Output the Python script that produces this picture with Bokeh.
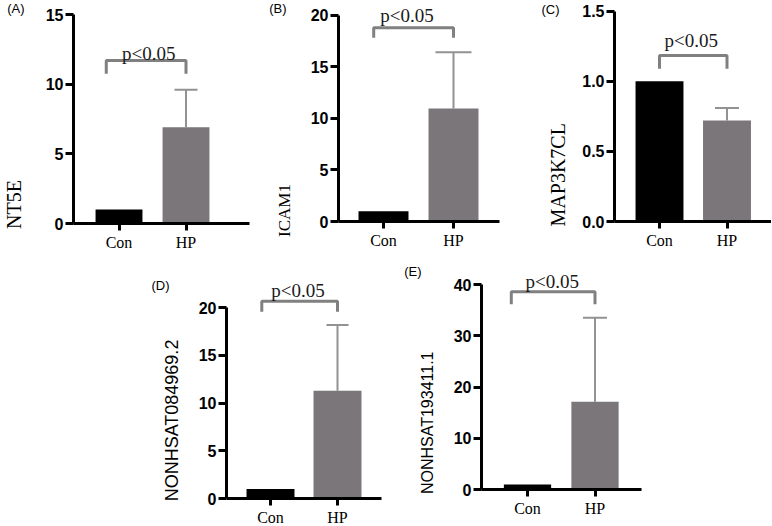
import math
from bokeh.plotting import figure
from bokeh.models import (Range1d, FixedTicker, Label, Whisker, TeeHead, LinearAxis,
                          ColumnDataSource, Spacer, PrintfTickFormatter)
from bokeh.layouts import column, row
from bokeh.embed import file_html
from bokeh.resources import INLINE

# ---------------- data ----------------
groups = ["Con", "HP"]

panel_letters = ["(A)", "(B)", "(C)", "(D)", "(E)"]
gene_names = ["NT5E", "ICAM1", "MAP3K7CL", "NONHSAT084969.2", "NONHSAT193411.1"]

nt5e_values = [1.0, 6.9]
icam1_values = [1.0, 10.95]
map3k7cl_values = [1.0, 0.72]
nonhsat084969_values = [1.0, 11.3]
nonhsat193411_values = [1.0, 17.1]

# upper end of the HP error bar
hp_error_top = [9.6, 16.4, 0.81, 18.2, 33.5]

nt5e_ticks = [0, 5, 10, 15]
icam1_ticks = [0, 5, 10, 15, 20]
map3k7cl_ticks = [0, 0.5, 1.0, 1.5]
nonhsat084969_ticks = [0, 5, 10, 15, 20]
nonhsat193411_ticks = [0, 10, 20, 30, 40]

# significance bracket: left end (category units), top level, leg bottom level
bracket_left = [-0.19, -0.14, 0.0, -0.13, -0.24]
bracket_top = [11.7, 18.78, 1.184, 20.69, 38.57]
bracket_leg = [10.75, 17.81, 1.089, 19.58, 36.15]
p_text = "p<0.05"
p_text_x = [0.445, 0.336, 0.47, 0.41, 0.366]

# ---------------- styles / geometry ----------------
CON_COLOR = "#000000"
HP_COLOR = "#7a767a"
ERR_COLOR = "#929292"
BRACKET_COLOR = "#808080"

# fw: frame width, unit: px per category, con_off: px from frame left to Con centre
# y0: px from frame top to value 0, ytop: px from frame top to last tick
# gene_up: px above zero line of the axis-title centre, sg: its standoff
# let_down: px below frame top of the panel letter, sl: its standoff
geoms = [
    dict(fw=176, unit=67.0, con_off=45.5, y0=223, ytop=14.0, bl=72, br=12, bb=35, bw=0.70,
         cap=23, gap=7, gene_up=19, sg=17, let_down=8, sl=-24,
         lab_font="Liberation Serif", lab_size="20px"),
    dict(fw=161, unit=70.0, con_off=45.0, y0=221, ytop=14.7, bl=77, br=22, bb=37, bw=0.714,
         cap=36, gap=12, gene_up=11, sg=13, let_down=7, sl=-14,
         lab_font="Liberation Serif", lab_size="17px"),
    dict(fw=157, unit=67.5, con_off=45.0, y0=221, ytop=10.7, bl=93, br=0, bb=37, bw=0.71,
         cap=24, gap=15, gene_up=46.7, sg=10, let_down=6, sl=-15,
         lab_font="Liberation Serif", lab_size="20px"),
    dict(fw=155, unit=67.0, con_off=44.0, y0=240, ytop=49.3, bl=86, br=14, bb=26, bw=0.716,
         cap=22, gap=11, gene_up=78, sg=13, let_down=27, sl=-10,
         lab_font="Liberation Sans", lab_size="18px"),
    dict(fw=160, unit=67.5, con_off=46.0, y0=231, ytop=26.0, bl=86, br=10, bb=35, bw=0.70,
         cap=24, gap=10, gene_up=66.7, sg=14, let_down=13, sl=-5,
         lab_font="Liberation Sans", lab_size="16px"),
]

all_values = [nt5e_values, icam1_values, map3k7cl_values,
              nonhsat084969_values, nonhsat193411_values]
all_ticks = [nt5e_ticks, icam1_ticks, map3k7cl_ticks,
             nonhsat084969_ticks, nonhsat193411_ticks]
tick_formats = ["%d", "%d", "%.1f", "%d", "%d"]


def make_panel(i):
    g = geoms[i]
    values = all_values[i]
    ticks = all_ticks[i]
    unit = g["unit"]
    x_start = -g["con_off"] / unit
    x_end = x_start + g["fw"] / unit
    ppu = (g["y0"] - g["ytop"]) / ticks[-1]
    y_end = ticks[-1] + g["ytop"] / ppu

    p = figure(x_range=Range1d(x_start, x_end), y_range=Range1d(0, y_end),
               frame_width=g["fw"], frame_height=g["y0"],
               min_border_left=g["bl"], min_border_right=g["br"],
               min_border_top=0, min_border_bottom=g["bb"],
               output_backend="svg", toolbar_location=None)
    p.xgrid.visible = False
    p.ygrid.visible = False
    p.outline_line_color = None

    xs = list(range(len(groups)))
    src = ColumnDataSource(dict(x=xs, top=values, color=[CON_COLOR, HP_COLOR]))
    p.vbar(x="x", top="top", width=g["bw"], fill_color="color", line_color=None, source=src)

    # error bar on HP
    esrc = ColumnDataSource(dict(x=[xs[1]], lower=[values[1]], upper=[hp_error_top[i]]))
    p.add_layout(Whisker(source=esrc, base="x", lower="lower", upper="upper",
                         dimension="height", line_color=ERR_COLOR, line_width=2,
                         upper_head=TeeHead(size=g["cap"], line_color=ERR_COLOR, line_width=2),
                         lower_head=None))

    # significance bracket
    p.line(x=[bracket_left[i], bracket_left[i], xs[1], xs[1]],
           y=[bracket_leg[i], bracket_top[i], bracket_top[i], bracket_leg[i]],
           line_color=BRACKET_COLOR, line_width=3)
    p.add_layout(Label(x=p_text_x[i], y=bracket_top[i], y_offset=g["gap"], text=p_text,
                       text_align="center", text_baseline="alphabetic",
                       text_font="Liberation Serif", text_font_size="19px",
                       text_color="#1a1a1a"))

    # axes
    yax = p.yaxis[0]
    yax.ticker = FixedTicker(ticks=ticks)
    yax.formatter = PrintfTickFormatter(format=tick_formats[i])
    yax.bounds = (0, ticks[-1])
    yax.axis_line_width = 3
    yax.major_tick_line_width = 3
    yax.major_tick_out = 8
    yax.major_tick_in = 0
    yax.minor_tick_line_color = None
    yax.major_label_standoff = 2
    yax.major_label_text_font = "Liberation Sans"
    yax.major_label_text_font_style = "bold"
    yax.major_label_text_font_size = "16px"
    yax.major_label_text_color = "#000000"

    xax = p.xaxis[0]
    xax.ticker = FixedTicker(ticks=xs)
    xax.major_label_overrides = {xs[0]: groups[0], xs[1]: groups[1]}
    xax.axis_line_width = 3
    xax.major_tick_line_width = 3
    xax.major_tick_out = 7
    xax.major_tick_in = 0
    xax.minor_tick_line_color = None
    xax.major_label_standoff = 3
    xax.major_label_text_font = "Liberation Serif"
    xax.major_label_text_font_size = "16px"
    xax.major_label_text_color = "#000000"

    # y-axis title, drawn as the single tick label of a bare extra axis
    gene_y = round(g["gene_up"] / ppu, 4)
    gax = LinearAxis(ticker=FixedTicker(ticks=[gene_y]),
                     major_label_overrides={gene_y: gene_names[i]},
                     axis_line_color=None, major_tick_line_color=None,
                     minor_tick_line_color=None, major_tick_out=0, major_tick_in=0,
                     major_label_orientation="parallel", major_label_standoff=g["sg"],
                     major_label_text_font=g["lab_font"],
                     major_label_text_font_size=g["lab_size"],
                     major_label_text_color="#000000")
    p.add_layout(gax, "left")

    # panel letter, likewise
    let_y = round(y_end - g["let_down"] / ppu, 4)
    lax = LinearAxis(ticker=FixedTicker(ticks=[let_y]),
                     major_label_overrides={let_y: panel_letters[i]},
                     axis_line_color=None, major_tick_line_color=None,
                     minor_tick_line_color=None, major_tick_out=0, major_tick_in=0,
                     major_label_orientation="horizontal", major_label_standoff=g["sl"],
                     major_label_text_font="Liberation Sans",
                     major_label_text_font_size="13px",
                     major_label_text_color="#000000")
    p.add_layout(lax, "left")
    return p


panels = [make_panel(i) for i in range(5)]
top = row(panels[0], panels[1], panels[2])
bottom = row(Spacer(width=140, height=266), panels[3], panels[4])
layout = column(top, bottom)

open("out.html", "w").write(file_html(layout, INLINE))
